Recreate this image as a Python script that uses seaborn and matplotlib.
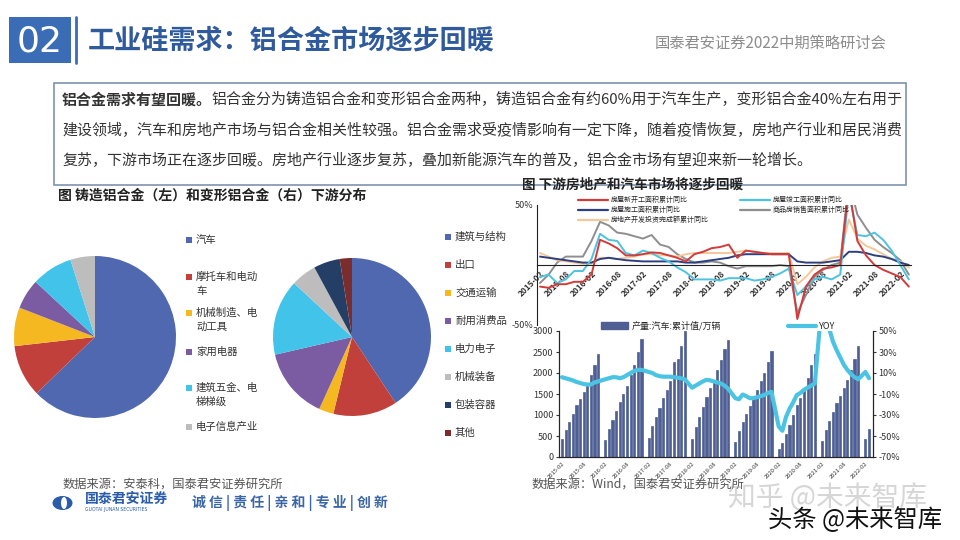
import numpy as np
import pandas as pd
import matplotlib
matplotlib.use('Agg')
import matplotlib.pyplot as plt
from matplotlib.patches import Rectangle, Patch, Ellipse
from matplotlib.lines import Line2D
import seaborn as sns

# 饼图数据（%）
cast_labels = ['汽车', '摩托车和电动\n车', '机械制造、电\n动工具', '家用电器', '建筑五金、电\n梯梯级', '电子信息产业']
cast_share = [62.8, 10.4, 7.7, 6.0, 8.2, 4.9]
wrought_labels = ['建筑与结构', '出口', '交通运输', '耐用消费品', '电力电子', '机械装备', '包装容器', '其他']
wrought_share = [40.7, 13.1, 3.0, 14.6, 15.5, 5.2, 5.4, 2.5]

# 房地产累计同比（%），2015-02 至 2022-04，每两个月
house_new_start = [-18, -19, -16, -16, -14, -14, -8, 21, 18, 14, 8, 8, 9, 10.5, 10, 8, 6, 3, 9, 11,
                   14, 15, 17, 6, 12, 11, 10, 9, 9, 9, -45, -18, -8, -3, -2, 0, 65, 20, 8, 0, -4, -7, -10, -18]
house_complete = [-10, -8, -15, -12, -5, -5, 5, 26, 21, 20, 10, 8, 12, 10, 6, 3, -2, -6, -12, -12,
                  -12, -13, -11, -11, -11, -13, -12, -10, -7, -3, -25, -18, -12, -10, -12, -8, 60, 25, 24, 27, 21, 12, 0, -12]
house_construct = [7, 6, 5, 4, 3, 2, 2, 5, 6, 5, 4, 3.5, 3, 3, 3, 3, 3, 2, 2, 3,
                   4, 5, 6, 8, 9, 9, 9, 9, 9, 9, 3, 2, 2, 2, 3, 4, 11, 11, 10, 8, 7, 5, 2, 0]
house_sales = [-15, -8, 2, 7, 7, 7, 20, 36, 33, 27, 26, 24, 22, 25, 17, 15, 9, 5, 2, 2,
               3, 2, -1, -3, -1, -1, -1, -1, 0, -1, -40, -25, -10, -4, 0, 2, 70, 42, 31, 21, 15, 10, 4, -8]
house_invest = [10, 7, 4, 3, 2, 1, 1, 6, 6, 5, 6, 7, 9, 9, 8, 8, 7, 9, 10, 10,
                10, 10, 10, 11, 12, 11, 10, 10, 10, 10, -16, -10, -2, 3, 6, 7, 38, 22, 16, 13, 9, 5, 3, -2]

# 汽车产量累计值（万辆），每年 2-12 月
prod_2015 = [420, 650, 830, 1020, 1240, 1370, 1540, 1750, 1960, 2200, 2450]
prod_2016 = [410, 670, 880, 1100, 1300, 1500, 1700, 1960, 2200, 2500, 2810]
prod_2017 = [460, 740, 950, 1160, 1400, 1600, 1800, 2270, 2330, 2650, 3000]
prod_2018 = [430, 720, 950, 1190, 1420, 1640, 1820, 2080, 2320, 2580, 2790]
prod_2019 = [360, 620, 830, 1020, 1220, 1400, 1590, 1800, 2010, 2270, 2530]
prod_2020 = [190, 340, 550, 760, 1000, 1250, 1400, 1570, 1890, 2180, 2460]
prod_2021 = [380, 640, 860, 1070, 1290, 1450, 1640, 1840, 2080, 2340, 2650]
prod_2022 = [430, 670]

# 累计同比（%）
yoy_2015 = [6, 5, 4, 3, 1.5, 0.5, -0.5, -1, -1, 1, 2]
yoy_2016 = [4, 5, 6, 6, 5, 6, 8, 10, 12, 13, 13]
yoy_2017 = [11, 10, 8, 7, 6.5, 6.5, 6.5, 6, 5.5, 5, 4]
yoy_2018 = [-4, -2, 0, 2, 3.5, 3, 2, 1, 0, -2, -5]
yoy_2019 = [-14, -15, -10.5, -12, -14, -14, -13, -12, -11, -9, -8]
yoy_2020 = [-41, -45, -32, -24, -18, -11, -9, -6, -4, -2, 0]
yoy_2021 = [80, 68, 52, 40, 32, 25, 18, 13, 9, 6, 4]
yoy_2022 = [11, 5]

W, H = 960, 540
sns.set_style('white')
plt.rcParams['font.family'] = ['Noto Sans CJK SC', 'DejaVu Sans']
plt.rcParams['axes.unicode_minus'] = False

fig = plt.figure(figsize=(9.6, 5.4), dpi=100)


def fx(x):
    return x / W


def fy(y):
    return 1 - y / H


def add_ax(x0, y0, x1, y1):
    return fig.add_axes([x0 / W, 1 - y1 / H, (x1 - x0) / W, (y1 - y0) / H])


def ftext(x, y, s, **kw):
    kw.setdefault('va', 'center')
    return fig.text(fx(x), fy(y), s, **kw)


def frect(x0, y0, w, h, **kw):
    fig.add_artist(Rectangle((fx(x0), fy(y0 + h)), w / W, h / H, transform=fig.transFigure, **kw))


# ---- 标题栏 ----
blue = '#3A6DB5'
frect(9, 17, 62, 46, facecolor=blue, edgecolor='none')
ftext(40, 41, '02', color='white', fontsize=26, ha='center', family='DejaVu Sans')
fig.add_artist(Line2D([fx(76), fx(76)], [fy(17), fy(63)], transform=fig.transFigure, color=blue, lw=2))
ftext(88, 40, '工业硅需求：铝合金市场逐步回暖', fontsize=19.5, fontweight='bold', color='#2F5B9C')
ftext(655, 43, '国泰君安证券2022中期策略研讨会', fontsize=11, color='#8C8C8C')

# ---- 文本框 ----
frect(54, 83, 852, 102, facecolor='none', edgecolor='#7F93AE', lw=1.2)
tcol = '#333333'
fs_box = 10.8
t0 = ftext(62, 100, '铝合金需求有望回暖。', fontsize=fs_box, fontweight='bold', color=tcol)
r = fig.canvas.get_renderer()
bb = t0.get_window_extent(r)
fig.text(bb.x1 / fig.bbox.width, fy(100),
         '铝合金分为铸造铝合金和变形铝合金两种，铸造铝合金有约60%用于汽车生产，变形铝合金40%左右用于',
         fontsize=fs_box, color=tcol, va='center')
ftext(62, 130, '建设领域，汽车和房地产市场与铝合金相关性较强。铝合金需求受疫情影响有一定下降，随着疫情恢复，房地产行业和居民消费',
      fontsize=fs_box, color=tcol)
ftext(62, 160, '复苏，下游市场正在逐步回暖。房地产行业逐步复苏，叠加新能源汽车的普及，铝合金市场有望迎来新一轮增长。',
      fontsize=fs_box, color=tcol)

# ---- 饼图 ----
ftext(58, 196, '图 铸造铝合金（左）和变形铝合金（右）下游分布', fontsize=10, fontweight='bold', color='#222222')
pie_colors = ['#5068B0', '#C2403C', '#F5B821', '#7B5BA2', '#42C3EA', '#BDBDBD', '#253E66', '#7B2D2D']

ax_p1 = add_ax(14, 256, 176, 418)
ax_p1.pie(cast_share, colors=pie_colors[:len(cast_share)], startangle=90, counterclock=False,
          wedgeprops=dict(edgecolor='none'))
ax_p1.set_xlim(-1, 1)
ax_p1.set_ylim(-1, 1)
ax_p1.set_aspect('equal')

ax_p2 = add_ax(273, 258, 431, 416)
ax_p2.pie(wrought_share, colors=pie_colors, startangle=90, counterclock=False,
          wedgeprops=dict(edgecolor='none'))
ax_p2.set_xlim(-1, 1)
ax_p2.set_ylim(-1, 1)
ax_p2.set_aspect('equal')

# 图例
left_leg_y = [240, 277, 313, 352, 388, 427]
for lab, y, c in zip(cast_labels, left_leg_y, pie_colors):
    frect(186, y - 3, 6, 6, facecolor=c, edgecolor='none')
    for j, line in enumerate(lab.split('\n')):
        ftext(196, y + j * 14, line, fontsize=7.5, color='#333333')

right_leg_y = [237, 265, 293, 321, 349, 377, 405, 433]
for lab, y, c in zip(wrought_labels, right_leg_y, pie_colors):
    frect(445, y - 3, 6, 6, facecolor=c, edgecolor='none')
    ftext(455, y, lab, fontsize=7.5, color='#333333')

# ---- 房地产折线图 ----
ftext(522, 185, '图 下游房地产和汽车市场将逐步回暖', fontsize=9.8, fontweight='bold', color='#222222')
house_months = pd.date_range('2015-02-01', periods=len(house_new_start), freq='2MS')
house_x = np.asarray((house_months.year - 2015) * 12 + house_months.month - 1)

ax_l = add_ax(537, 205, 911, 325)
ax_l.set_facecolor('none')
series = [
    ('商品房销售面积累计同比', house_sales, '#8E8E8E'),
    ('房地产开发投资完成额累计同比', house_invest, '#F3C89B'),
    ('房屋施工面积累计同比', house_construct, '#2E3F80'),
    ('房屋竣工面积累计同比', house_complete, '#4CC3E0'),
    ('房屋新开工面积累计同比', house_new_start, '#D33A3A'),
]
handles = {}
for name, vals, col in series:
    sns.lineplot(x=house_x, y=vals, color=col, lw=1.4, ax=ax_l)
    handles[name] = Line2D([], [], color=col, lw=1.6)
ax_l.set_xlim(0.3, 87.5)
ax_l.set_ylim(-50, 50)
ax_l.spines['bottom'].set_position(('data', 0))
ax_l.spines['top'].set_visible(False)
ax_l.spines['right'].set_visible(False)
for sp in ['bottom', 'left']:
    ax_l.spines[sp].set_color('#222222')
    ax_l.spines[sp].set_linewidth(0.8)
tick_x = list(range(1, 86, 6))
tick_lab = [f'{2015 + t // 12}-{t % 12 + 1:02d}' for t in tick_x]
ax_l.set_xticks(tick_x)
ax_l.set_xticklabels(tick_lab, rotation=45, ha='right', rotation_mode='anchor',
                     fontsize=6, fontweight='bold', color='#333333')
ax_l.set_yticks([-50, 50])
ax_l.set_yticklabels(['-50%', '50%'], fontsize=6.5, color='#333333')
ax_l.tick_params(length=2, pad=1)
order = ['房屋新开工面积累计同比', '房屋施工面积累计同比', '房地产开发投资完成额累计同比',
         '房屋竣工面积累计同比', '商品房销售面积累计同比']
ax_l.legend([handles[k] for k in order], order, ncol=2, loc='upper left',
            bbox_to_anchor=(fx(575), fy(193)), bbox_transform=fig.transFigure,
            frameon=False, fontsize=5, handlelength=4.2, handletextpad=0.5,
            columnspacing=4.5, labelspacing=0.25, borderpad=0)

# ---- 汽车产量柱状图 ----
prod_years = [prod_2015, prod_2016, prod_2017, prod_2018, prod_2019, prod_2020, prod_2021, prod_2022]
yoy_years = [yoy_2015, yoy_2016, yoy_2017, yoy_2018, yoy_2019, yoy_2020, yoy_2021, yoy_2022]
car_x = [k * 12 + j for k, vals in enumerate(prod_years) for j in range(1, len(vals) + 1)]
car_prod = [v for vals in prod_years for v in vals]
car_yoy = [v for vals in yoy_years for v in vals]

ax_b = add_ax(559, 331, 873, 457)
ax_b.set_facecolor('none')
bar_col = '#4F5F94'
sns.barplot(x=car_x, y=car_prod, native_scale=True, color=bar_col, width=0.6,
            saturation=1, errorbar=None, edgecolor=bar_col, linewidth=0.5, ax=ax_b)
ax_b.set_xlim(0.17, 87.1)
ax_b.set_ylim(0, 3000)
ax_b.set_yticks(range(0, 3001, 500))
ax_b.tick_params(axis='y', labelsize=6.5, length=2, pad=2, colors='#333333')
ax_b.set_xticks(tick_x)
ax_b.set_xticklabels(tick_lab, rotation=45, ha='right', rotation_mode='anchor',
                     fontsize=4.2, color='#333333')
ax_b.tick_params(axis='x', length=2, pad=1)
ax_b.spines['top'].set_visible(False)
for sp in ['bottom', 'left', 'right']:
    ax_b.spines[sp].set_color('#222222')
    ax_b.spines[sp].set_linewidth(0.8)

ax_r = ax_b.twinx()
yoy_col = '#4BC3E3'
sns.lineplot(x=car_x, y=car_yoy, color=yoy_col, lw=3, ax=ax_r)
ax_r.set_ylim(-70, 50)
ax_r.set_yticks(range(-70, 51, 20))
ax_r.set_yticklabels([f'{v}%' for v in range(-70, 51, 20)])
ax_r.tick_params(axis='y', labelsize=6.5, length=2, pad=2, colors='#333333')
ax_r.spines['top'].set_visible(False)
ax_r.spines['right'].set_color('#222222')
ax_r.spines['right'].set_linewidth(0.8)

ax_b.legend([Patch(color=bar_col), Line2D([], [], color=yoy_col, lw=3)],
            ['产量:汽车:累计值/万辆', 'YOY'], ncol=2, loc='center left',
            bbox_to_anchor=(fx(596), fy(326)), bbox_transform=fig.transFigure,
            frameon=False, fontsize=6.5, handlelength=3.0, handleheight=0.7,
            handletextpad=0.4, columnspacing=7.5, borderpad=0)

# ---- 底部 ----
ftext(63, 484, '数据来源：安泰科，国泰君安证券研究所', fontsize=8.8, color='#555555')
ftext(532, 484, '数据来源：Wind，国泰君安证券研究所', fontsize=8.8, color='#555555')
fig.add_artist(Ellipse((fx(62.5), fy(503)), 20 / W, 14 / H, transform=fig.transFigure,
                       facecolor='#2A5CAA', edgecolor='none'))
fig.add_artist(Ellipse((fx(64), fy(503)), 6 / W, 12 / H, transform=fig.transFigure,
                       facecolor='white', edgecolor='none'))
ftext(85, 499, '国泰君安证券', fontsize=10, fontweight='bold', color='#2A5CAA')
ftext(85, 510, 'GUOTAI JUNAN SECURITIES', fontsize=3.3, color='#2A5CAA', family='DejaVu Sans')
ftext(192, 503, '诚 信 | 责 任 | 亲 和 | 专 业 | 创 新', fontsize=10, fontweight='bold', color='#3A66A8')

ftext(728, 498, '知乎 @未来智库', fontsize=20, color='#9A9A9A', alpha=0.4)
ftext(768, 520, '头条 @未来智库', fontsize=17.5, color='#111111')

fig.savefig('out.png', dpi=100)
